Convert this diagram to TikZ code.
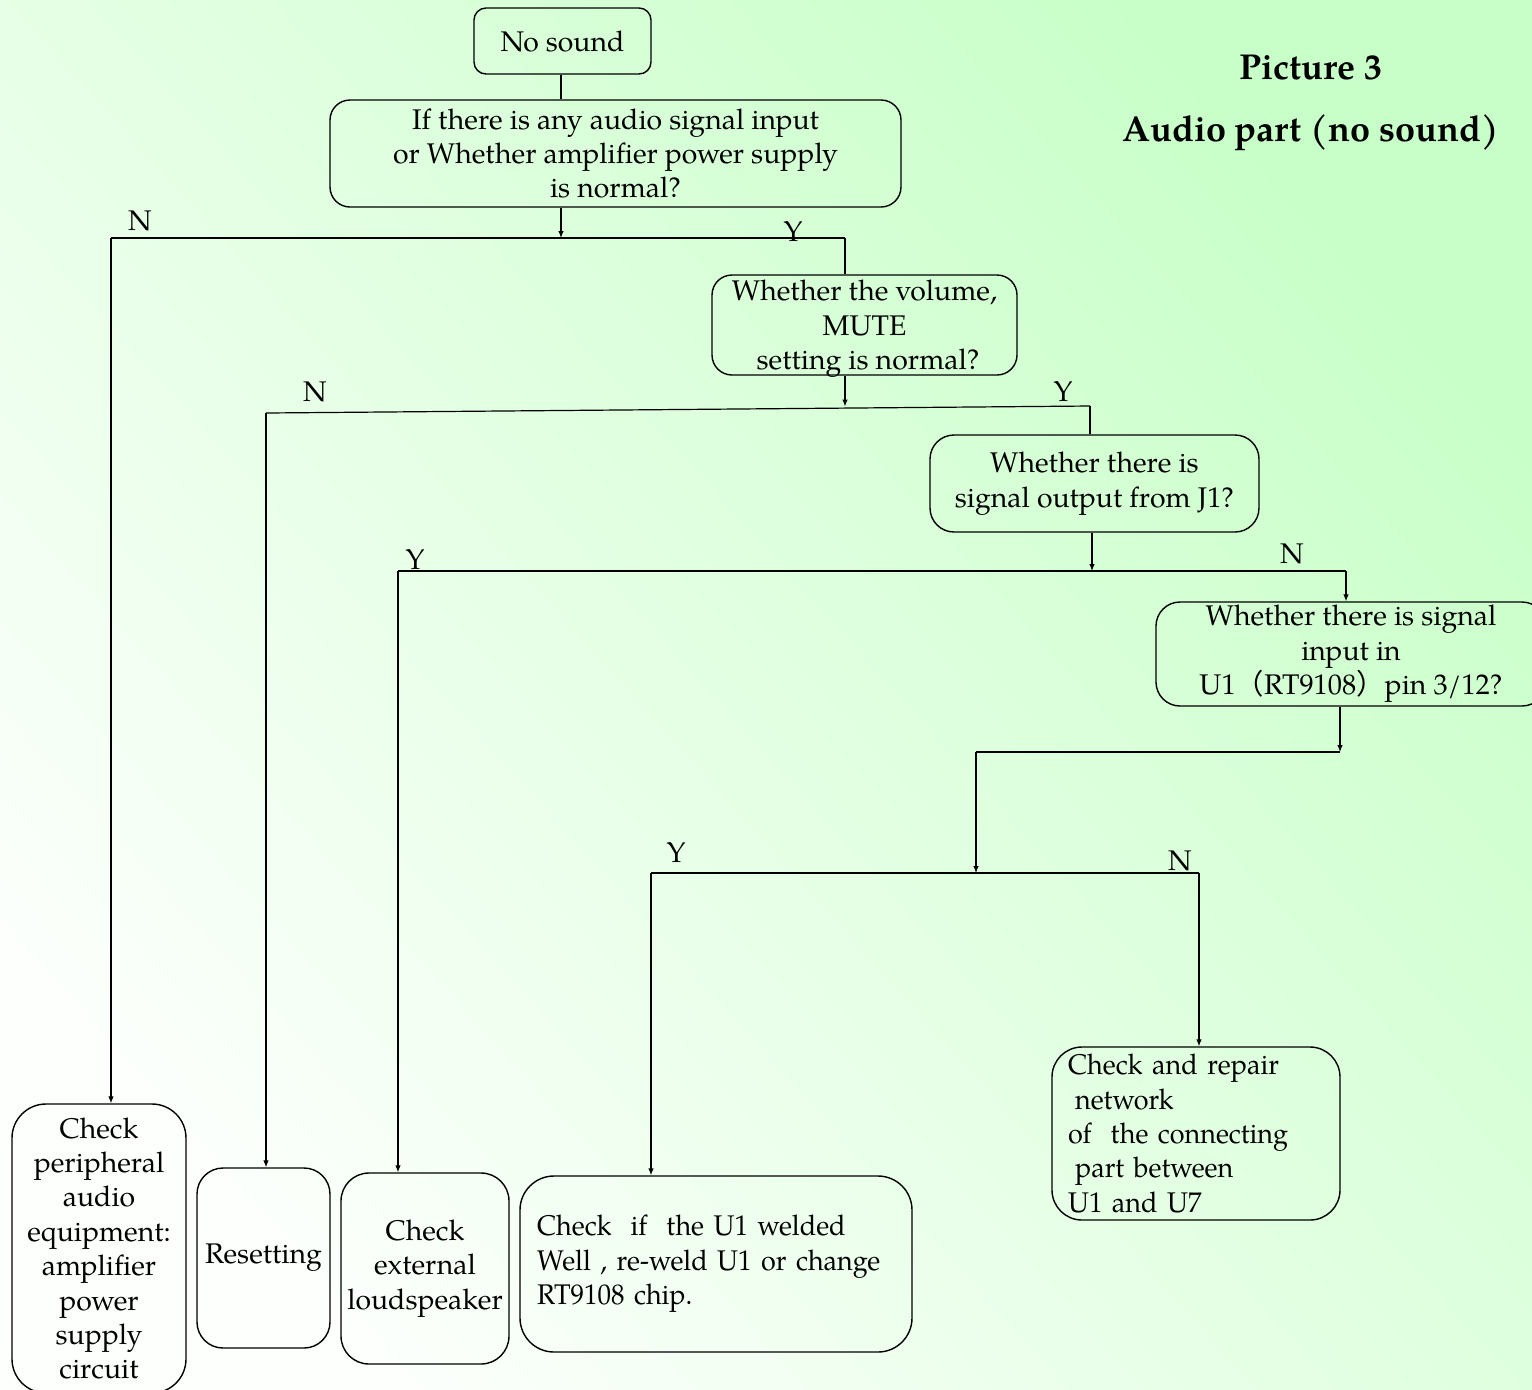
\documentclass[tikz,border=0pt]{standalone}
\usepackage{fontspec}
\setmainfont{TeX Gyre Pagella}
\newfontfamily\condfont[FakeStretch=0.95]{TeX Gyre Pagella}
\newfontfamily\cjk{Noto Sans CJK SC}
\usetikzlibrary{arrows.meta}
\definecolor{bgW}{RGB}{252,255,252}
\definecolor{bgG}{RGB}{200,255,200}
\newcommand\boxfont{\fontsize{14.2}{17.2}\selectfont}
\newcommand\condboxfont{\condfont\fontsize{14.2}{17.2}\selectfont}
\newcommand\titlefont{\fontsize{18}{21}\selectfont\bfseries}
\begin{document}
\begin{tikzpicture}[x=0.5pt,y=-0.5pt,
  box/.style={draw, rounded corners=#1, line width=0.7pt, align=center, inner sep=0pt, font=\boxfont},
  box/.default=10pt,
  lbox/.style={draw, rounded corners=#1, line width=0.7pt, align=left, inner ysep=0pt, font=\boxfont},
  lab/.style={inner sep=0pt, font=\boxfont},
  conn/.style={line width=0.6pt},
  arr/.style={line width=0.6pt, -{Latex[length=3.5pt,width=2.8pt]}},
  thickconn/.style={line width=1pt}]
\useasboundingbox (0,0) rectangle (1532,1389);
\begin{scope}
\clip (0,0) rectangle (1532,1389);
\shade[shading=axis, top color=bgG, bottom color=bgW, shading angle=-48] (0,0) rectangle (1532,1389);
\end{scope}
\begin{scope}
\clip (0,0) rectangle (1532,1389);
% title
\node[font=\titlefont, inner sep=0pt] (t1) at (1311,68) {Picture 3};
\node[font=\titlefont, inner sep=0pt] (t2) at (1311,133) {Audio part (no sound)};
% boxes
\node[box=6pt, minimum width=88.5pt, minimum height=33pt] (nosound) at (562.5,41) {No sound};
\node[box=10pt, minimum width=285.5pt, minimum height=53.5pt] (q1) at (615.5,153.5) {If there is any audio signal input\\or Whether amplifier power supply\\is normal?};
\node[box=10pt, minimum width=152.5pt, minimum height=50pt, text depth=-3pt] (q2) at (864.5,325) {Whether the volume,\\MUTE\\\ setting is normal?};
\node[box=12pt, minimum width=164.5pt, minimum height=48.5pt] (q3) at (1094.5,483.5) {Whether there is\\signal output from J1?};
\node[box=12pt, minimum width=195pt, minimum height=52pt] (q4) at (1351,654) {Whether there is signal\\input in\\U1{\cjk（}RT9108{\cjk）}pin 3/12?};
\node[box=17pt, minimum width=87pt, minimum height=144.5pt] (periph) at (99,1248.5) {Check\\peripheral\\audio\\equipment:\\amplifier\\power\\supply\\circuit};
\node[box=13pt, minimum width=66.5pt, minimum height=90pt] (reset) at (263.5,1258) {Resetting};
\node[box=14pt, minimum width=84pt, minimum height=95.5pt] (loud) at (425,1268.5) {Check\\external\\loudspeaker};
\node[lbox=17pt, font=\condboxfont, text width=179pt, inner xsep=8.5pt, minimum height=88pt] (weld) at (716,1264) {\mbox{Check\ \ if\ \ the U1 welded}\\\mbox{Well , re-weld U1 or change}\\\mbox{RT9108 chip.}};
\node[lbox=15pt, font=\condboxfont, text width=128pt, inner xsep=8pt, minimum height=86.5pt] (repair) at (1196,1133.5) {\mbox{Check and repair}\\\hspace*{0.25em}network\\\mbox{of\ \ the connecting}\\\hspace*{0.25em}part between\\U1 and U7};
% junction coordinates
\coordinate (j1L) at (111,238);
\coordinate (j1M) at (561,238);
\coordinate (j1R) at (845,238);
\coordinate (j2L) at (266,413);
\coordinate (j2M) at (845,406.5);
\coordinate (j2R) at (1090,406);
\coordinate (j3L) at (398,571);
\coordinate (j3M) at (1092,571);
\coordinate (j3R) at (1346,571);
\coordinate (j4L) at (976,752);
\coordinate (j4R) at (1340,752);
\coordinate (j5L) at (651,873);
\coordinate (j5M) at (976,873);
\coordinate (j5R) at (1199,873);
% labels
\node[lab] (n1) at (140,221) {N};
\node[lab] (y1) at (793,232) {Y};
\node[lab] (n2) at (315,392) {N};
\node[lab] (y2) at (1063,392) {Y};
\node[lab] (y3) at (415,560) {Y};
\node[lab] (n3) at (1292,554) {N};
\node[lab] (y4) at (676,853) {Y};
\node[lab] (n4) at (1180,861) {N};
% connectors
\draw[thickconn] (nosound.south -| j1M) -- (q1.north -| j1M);
\draw[arr] (q1.south -| j1M) -- (j1M);
\draw[conn] (j1L) -- (j1R);
\draw[arr] (j1L) -- (j1L |- periph.north);
\draw[line width=0.8pt] (j1R) -- (j1R |- q2.north);
\draw[arr] (q2.south -| j2M) -- (j2M);
\draw[conn] (j2L) -- (j2R);
\draw[arr] (j2L) -- (j2L |- reset.north);
\draw[line width=0.9pt] (j2R) -- (j2R |- q3.north);
\draw[arr] (q3.south -| j3M) -- (j3M);
\draw[conn] (j3L) -- (j3R);
\draw[arr] (j3L) -- (j3L |- loud.north);
\draw[arr] (j3R) -- (j3R |- q4.north);
\draw[arr] (q4.south -| j4R) -- (j4R);
\draw[line width=1.2pt] (j4R) -- (j4L);
\draw[arr] (j4L) -- (j5M);
\draw[conn] (j5L) -- (j5R);
\draw[arr] (j5L) -- (j5L |- weld.north);
\draw[arr] (j5R) -- (j5R |- repair.north);
\end{scope}
\end{tikzpicture}
\end{document}
